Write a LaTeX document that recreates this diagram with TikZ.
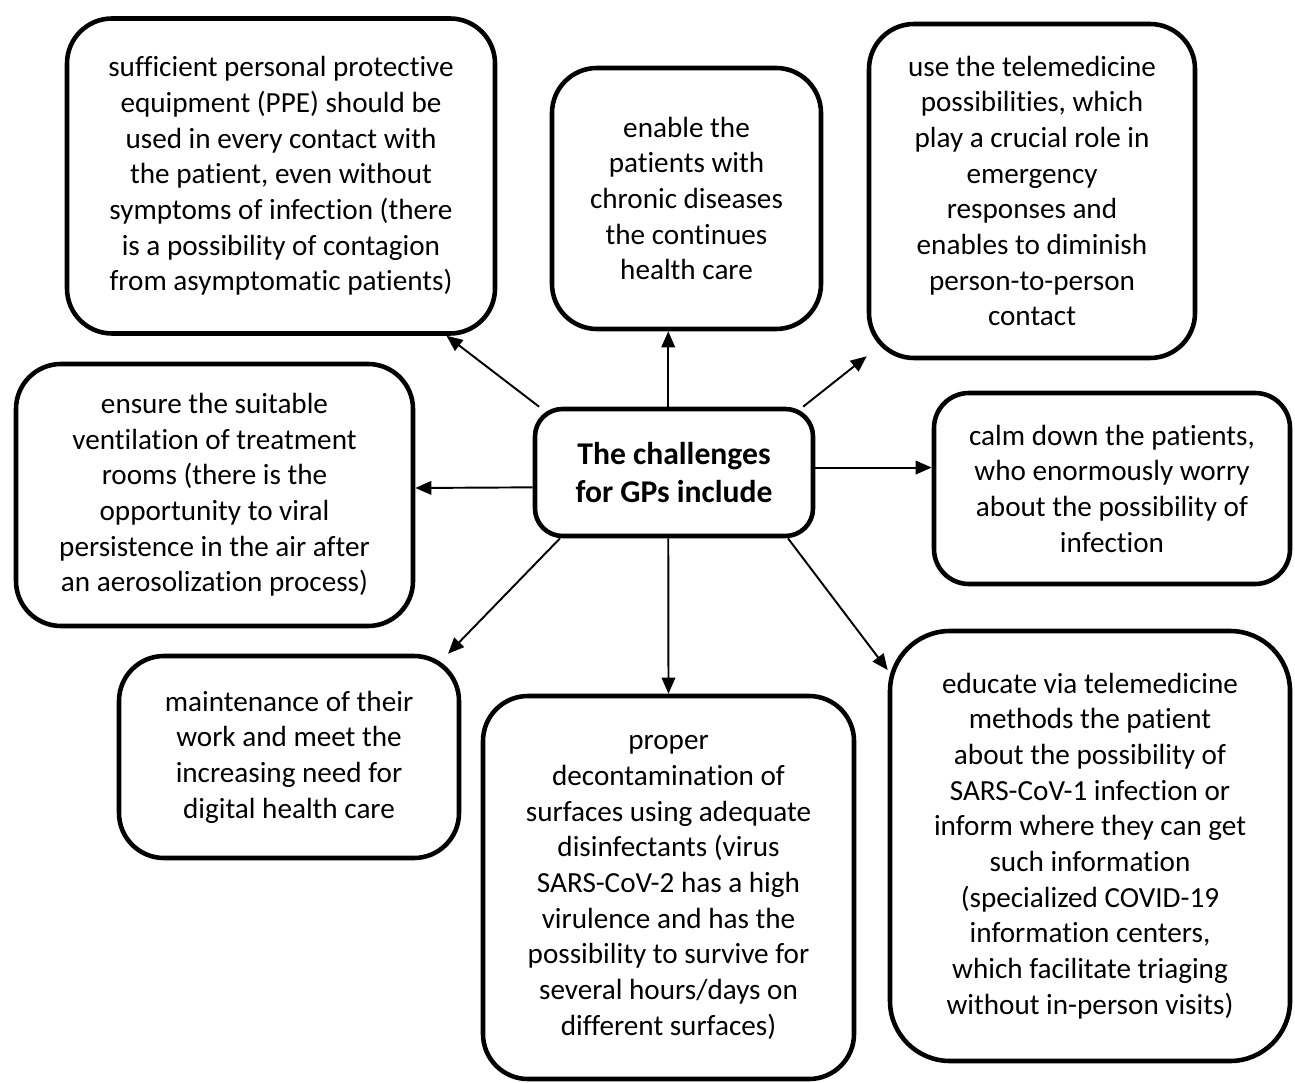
\documentclass[tikz,border=0pt]{standalone}
\usepackage{fontspec}
\setmainfont{Carlito}[Ligatures=NoCommon, RawFeature={-liga;-clig;-dlig}]
\usepackage{tikz}
\usetikzlibrary{arrows.meta, positioning}

\begin{document}
\begin{tikzpicture}[
    challenge/.style={rectangle, draw, line width=2.6pt, rounded corners=0.9cm, align=center, fill=white, inner sep=0pt},
    hub/.style={rectangle, draw, line width=2.6pt, rounded corners=0.55cm, align=center, fill=white, inner sep=0pt, font=\fontsize{18}{21.8}\selectfont\bfseries},
    arrow/.style={-{Triangle[length=0.32cm, width=0.27cm]}, line width=1.1pt},
    every node/.append style={font=\fontsize{16.6}{20.3}\selectfont}
]
    \useasboundingbox (0,0) rectangle (25.9,21.64);

    \node[hub, minimum width=5.56cm, minimum height=2.54cm] (hub) at (13.48,12.19) {The challenges\\for GPs include};

    \node[challenge, minimum width=8.56cm, minimum height=6.30cm] (ppe) at (5.62,18.12) {sufficient personal protective\\equipment (PPE) should be\\used in every contact with\\the patient, even without\\symptoms of infection (there\\is a possibility of contagion\\from asymptomatic patients)};
    \node[challenge, minimum width=5.38cm, minimum height=5.22cm] (chronic) at (13.73,17.67) {enable the\\patients with\\chronic diseases\\the continues\\health care};
    \node[challenge, minimum width=6.52cm, minimum height=6.68cm] (tele) at (20.64,17.82) {use the telemedicine\\possibilities, which\\play a crucial role in\\emergency\\responses and\\enables to diminish\\person-to-person\\contact};
    \node[challenge, minimum width=7.94cm, minimum height=5.24cm] (vent) at (4.29,11.74) {ensure the suitable\\ventilation of treatment\\rooms (there is the\\opportunity to viral\\persistence in the air after\\an aerosolization process)};
    \node[challenge, rounded corners=0.7cm, minimum width=7.12cm, minimum height=3.82cm] (calm) at (22.24,11.87) {calm down the patients,\\who enormously worry\\about the possibility of\\infection};
    \node[challenge, minimum width=6.80cm, minimum height=4.04cm] (maint) at (5.78,6.50) {maintenance of their\\work and meet the\\increasing need for\\digital health care};
    \node[challenge, minimum width=7.42cm, minimum height=7.66cm] (decon) at (13.37,3.89) {proper\\decontamination of\\surfaces using adequate\\disinfectants (virus\\SARS-CoV-2 has a high\\virulence and has the\\possibility to survive for\\several hours/days on\\different surfaces)};
    \node[challenge, rounded corners=1.2cm, minimum width=8.00cm, minimum height=8.60cm] (educ) at (21.80,4.72) {educate via telemedicine\\methods the patient\\about the possibility of\\SARS-CoV-1 infection or\\inform where they can get\\such information\\(specialized COVID-19\\information centers,\\which facilitate triaging\\without in-person visits)};

    \draw[arrow] (hub.154) -- (ppe.-44);
    \draw[arrow] (hub.95) -- (chronic.south -| hub.95);
    \draw[arrow] (hub.27) -- (tele.-135);
    \draw[arrow] (hub.186) -- (vent.2.6);
    \draw[arrow] (hub.2) -- (hub.2 -| calm.west);
    \draw[arrow] (hub.210) -- (maint.33);
    \draw[arrow] (hub.265) -- (decon.north);
    \draw[arrow] (hub.-30.5) -- (educ.139);
\end{tikzpicture}
\end{document}
